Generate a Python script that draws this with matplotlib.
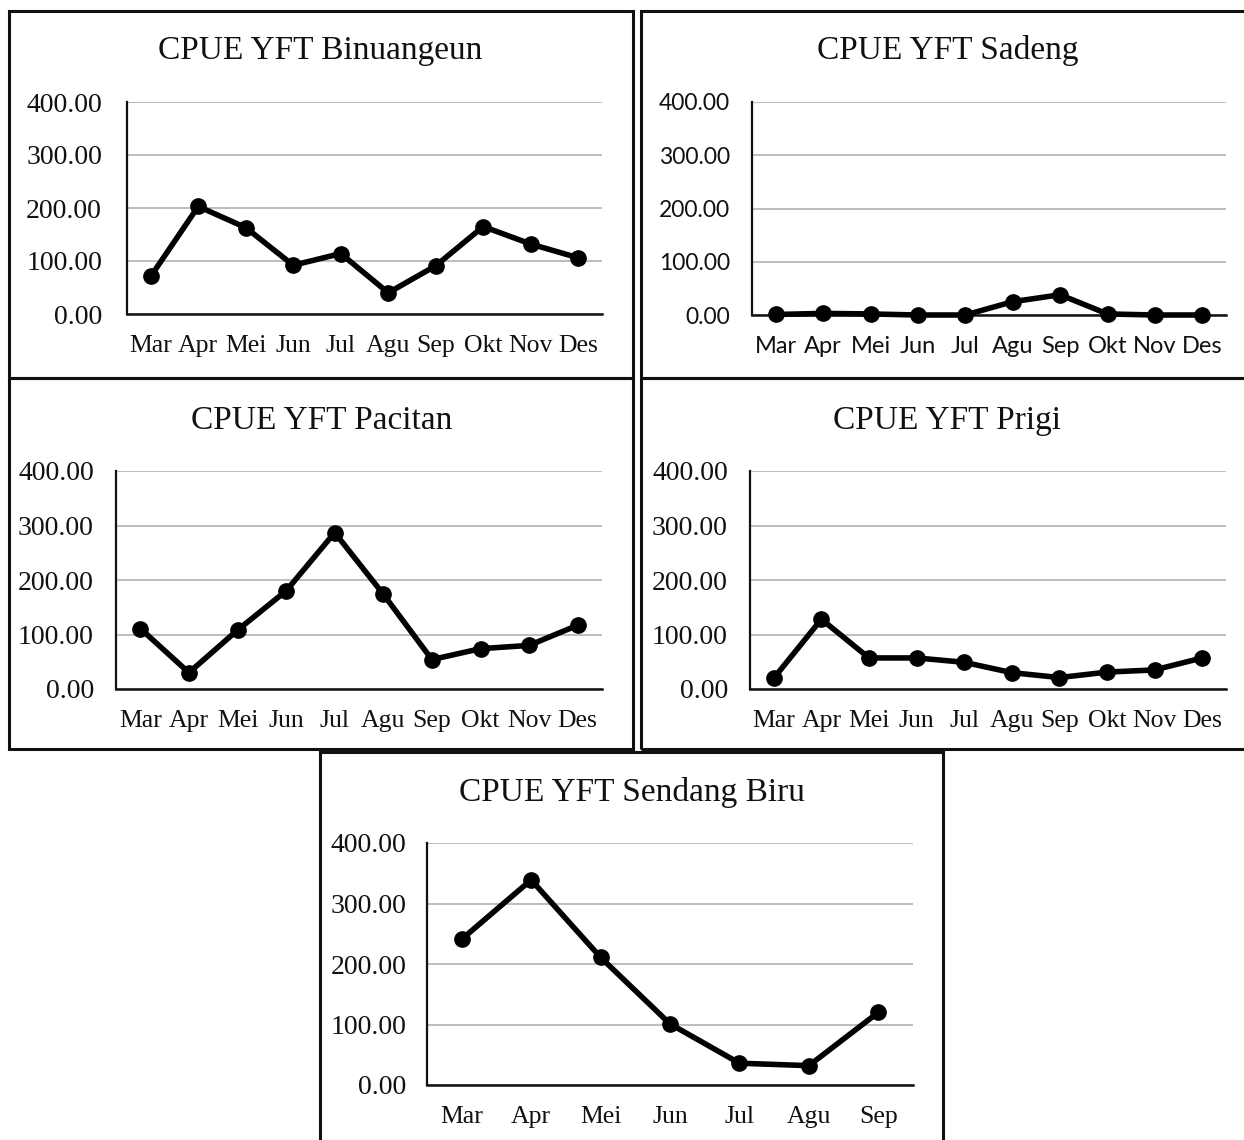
import matplotlib
matplotlib.use("Agg")
import matplotlib.pyplot as plt
from matplotlib.patches import Rectangle

W, H = 1244, 1140

# data
months_full = ["Mar", "Apr", "Mei", "Jun", "Jul", "Agu", "Sep", "Okt", "Nov", "Des"]
months_sendang = ["Mar", "Apr", "Mei", "Jun", "Jul", "Agu", "Sep"]
binuangeun = [71, 203, 163, 92, 114, 40, 91, 165, 132, 106]
sadeng = [1, 3, 2, 0, 0, 25, 38, 2, 0, 0]
pacitan = [111, 30, 108, 180, 287, 174, 54, 74, 80, 117]
prigi = [20, 128, 57, 57, 49, 30, 21, 31, 35, 57]
sendang_biru = [241, 339, 211, 101, 36, 32, 120]
yticks = [0, 100, 200, 300, 400]

serif = "Liberation Serif"

fig = plt.figure(figsize=(W / 100, H / 100), dpi=100)
fig.patch.set_facecolor("white")


def px_axes(l, t, r, b):
    return fig.add_axes([l / W, 1 - b / H, (r - l) / W, (b - t) / H])


def border(l, t, r, b):
    fig.add_artist(Rectangle((l / W, 1 - b / H), (r - l) / W, (b - t) / H,
                             transform=fig.transFigure, fill=False,
                             edgecolor="#111111", linewidth=2.2))


def panel(rect, labels, values, title, title_xy, tick_font=serif,
          ysize=20, xsize=18.5, ypad=18):
    ax = px_axes(*rect)
    x = list(range(len(labels)))
    ax.plot(x, values, color="black", linewidth=4, marker="o", markersize=11,
            solid_joinstyle="round", zorder=3, clip_on=False)
    ax.set_xlim(-0.5, len(labels) - 0.5)
    ax.set_ylim(0, 400)
    ax.set_yticks(yticks)
    ax.set_yticklabels([f"{v:.2f}" for v in yticks], fontfamily=tick_font,
                       fontsize=ysize, color="#111111")
    ax.set_xticks(x)
    ax.set_xticklabels(labels, fontfamily=tick_font, fontsize=xsize,
                       color="#111111")
    ax.tick_params(axis="y", length=0, pad=ypad)
    ax.tick_params(axis="x", length=0, pad=15)
    ax.grid(axis="y", color="#bdbdbd", linewidth=1.4)
    ax.set_axisbelow(True)
    for s in ["top", "right"]:
        ax.spines[s].set_visible(False)
    ax.spines["left"].set_linewidth(1.6)
    ax.spines["bottom"].set_linewidth(1.8)
    ax.spines["left"].set_color("#111111")
    ax.spines["bottom"].set_color("#111111")
    ax.patch.set_alpha(0)
    fig.text(title_xy[0] / W, 1 - title_xy[1] / H, title, fontfamily=serif,
             fontsize=24, ha="center", va="center", color="#111111")
    return ax


border(9, 11, 633, 378)
border(641, 11, 1250, 378)
border(9, 378, 633, 749)
border(641, 378, 1250, 749)
border(320, 752, 943, 1150)

panel((127, 102, 602, 314), months_full, binuangeun, "CPUE YFT Binuangeun", (320, 51))
panel((752, 102, 1226, 315), months_full, sadeng, "CPUE YFT Sadeng", (948, 51),
      tick_font="Lato", ysize=16.5, xsize=17, ypad=16)
panel((116, 471, 602, 689), months_full, pacitan, "CPUE YFT Pacitan", (322, 421), ypad=16)
panel((750, 471, 1226, 689), months_full, prigi, "CPUE YFT Prigi", (947, 421), ypad=16)
panel((427, 843, 913, 1085), months_sendang, sendang_biru, "CPUE YFT Sendang Biru",
      (632, 793), ypad=15)

fig.savefig("out.png", dpi=100, facecolor="white")
